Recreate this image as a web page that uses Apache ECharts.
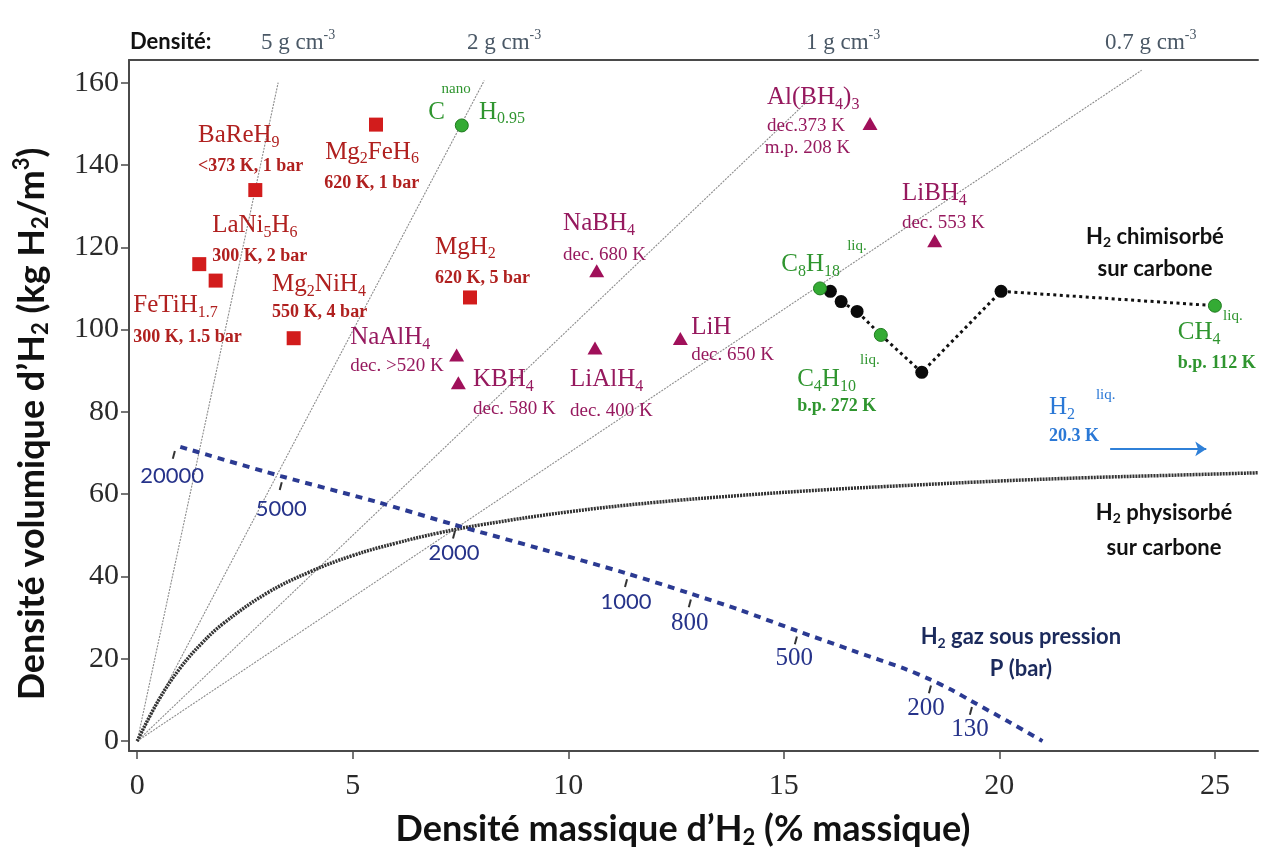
<!DOCTYPE html>
<html><head><meta charset="utf-8">
<script src="https://cdn.jsdelivr.net/npm/echarts@6/dist/echarts.min.js"></script>
<style>html,body{margin:0;padding:0;background:#fff}#c{width:1262px;height:850px}</style>
</head><body><div id="c"></div>
<script>
// ---------- data ----------
const xTicks = [0, 5, 10, 15, 20, 25];
const yTicks = [0, 20, 40, 60, 80, 100, 120, 140, 160];
const densityLabels = ['5 g cm', '2 g cm', '1 g cm', '0.7 g cm'];
const densityLineEnds = [[3.27, 160], [8.05, 160.5], [15.6, 156], [23.3, 163]];
const metalHydrideNames = ['BaReH9', 'LaNi5H6', 'FeTiH1.7', 'Mg2FeH6', 'MgH2', 'Mg2NiH4'];
const metalHydrides = [[2.74, 133.9], [1.44, 115.9], [1.82, 111.9], [5.54, 149.8], [7.72, 107.8], [3.63, 97.9]];
const complexHydrideNames = ['NaAlH4', 'KBH4', 'NaBH4', 'LiAlH4', 'LiH', 'Al(BH4)3', 'LiBH4'];
const complexHydrides = [[7.41, 93.8], [7.45, 87.1], [10.66, 114.3], [10.62, 95.5], [12.6, 97.8], [17.0, 150.1], [18.5, 121.6]];
const hydrocarbonNames = ['CnanoH0.95', 'C8H18', 'C4H10', 'CH4'];
const hydrocarbons = [[7.53, 149.6], [15.84, 110.0], [17.25, 98.7], [25.0, 105.8]];
const chemisorbedPoints = [[16.08, 109.3], [16.33, 106.8], [16.7, 104.4], [18.2, 89.6], [20.04, 109.3]];
const chemisorbedPath = [[15.84, 110.0], [16.08, 109.3], [16.33, 106.8], [16.7, 104.4], [17.25, 98.7], [18.2, 89.6], [20.04, 109.3], [25.0, 105.8]];
const physisorbedCurve = [[0, 0], [0.5, 10], [1, 17.8], [1.5, 23.8], [2, 28.6], [3, 35.9], [4, 41.1], [5, 45.1], [6, 48.1], [7, 50.6], [8, 52.6], [10, 55.7], [12, 58], [14, 59.7], [16, 61.1], [18, 62.2], [20, 63.2], [22, 64], [24, 64.6], [26, 65.2]];
const pressureCurve = [[1.0, 71.5], [3.33, 64.4], [5.5, 58.3], [7.35, 52.6], [9.4, 46.6], [11.34, 40.8], [12.82, 35.9], [14.0, 31.8], [15.28, 26.9], [16.6, 22.0], [17.8, 17.6], [18.39, 15.0], [18.9, 12.4], [19.34, 9.8], [20.2, 4.8], [21.0, 0]];
const pressureValues = ['20000', '5000', '2000', '1000', '800', '500', '200', '130'];
const pressureMarks = [[0.85, 72], [3.33, 64.4], [7.35, 52.6], [11.34, 40.8], [12.82, 35.9], [15.28, 26.9], [18.39, 15.0], [19.34, 9.8]];
const pressureLabelAt = [[0.81, 64.5], [3.34, 56.4], [7.35, 45.7], [11.34, 33.8], [12.82, 28.7], [15.24, 20.2], [18.30, 8.0], [19.32, 2.9]];
const h2LiquidArrow = [[22.57, 71], [24.8, 71]];

// ---------- annotations: [kind, text, x, y, color, align] ----------
const RED = '#b0201f', MAG = '#96195e', GRN = '#2f952f', BLU = '#2a78d6', NAV = '#1b2a5c', PBL = '#26338a';
const annotations = [
  ['F', 'BaReH_[9]', 1.41, 147.2, RED], ['K', '<373 K, 1 bar', 1.41, 139.7, RED],
  ['F', 'Mg_[2]FeH_[6]', 4.36, 143.1, RED], ['K', '620 K, 1 bar', 4.34, 135.5, RED],
  ['F', 'LaNi_[5]H_[6]', 1.74, 125.3, RED], ['K', '300 K, 2 bar', 1.74, 117.8, RED],
  ['F', 'Mg_[2]NiH_[4]', 3.13, 110.9, RED], ['K', '550 K, 4 bar', 3.13, 104.1, RED],
  ['F', 'FeTiH_[1.7]', -0.09, 105.8, RED], ['K', '300 K, 1.5 bar', -0.09, 98.1, RED],
  ['F', 'MgH_[2]', 6.91, 120.0, RED], ['K', '620 K, 5 bar', 6.91, 112.4, RED],
  ['F', 'NaAlH_[4]', 4.94, 98.1, MAG], ['C', 'dec. >520 K', 4.94, 91.2, MAG],
  ['F', 'KBH_[4]', 7.79, 87.8, MAG], ['C', 'dec. 580 K', 7.79, 80.8, MAG],
  ['F', 'NaBH_[4]', 9.88, 125.8, MAG], ['C', 'dec. 680 K', 9.88, 118.0, MAG],
  ['F', 'LiAlH_[4]', 10.04, 87.8, MAG], ['C', 'dec. 400 K', 10.04, 80.3, MAG],
  ['F', 'LiH', 12.85, 100.5, MAG], ['C', 'dec. 650 K', 12.85, 93.9, MAG],
  ['F', 'Al(BH_[4])_[3]', 14.61, 156.4, MAG], ['C', 'dec.373 K', 14.61, 149.4, MAG], ['C', 'm.p. 208 K', 14.56, 144.0, MAG],
  ['F', 'LiBH_[4]', 17.74, 133.1, MAG], ['C', 'dec. 553 K', 17.74, 126.0, MAG],
  ['F', 'C', 6.75, 152.8, GRN], ['N', 'nano', 7.06, 158.4, GRN], ['F', 'H_[0.95]', 7.93, 152.8, GRN],
  ['F', 'C_[8]H_[18]', 14.94, 115.8, GRN], ['N', 'liq.', 16.47, 120.2, GRN],
  ['F', 'C_[4]H_[10]', 15.31, 87.8, GRN], ['N', 'liq.', 16.77, 92.5, GRN], ['K', 'b.p. 272 K', 15.31, 81.3, GRN],
  ['F', 'CH_[4]', 24.14, 99.3, GRN], ['N', 'liq.', 25.19, 103.4, GRN], ['K', 'b.p. 112 K', 24.14, 91.7, GRN],
  ['F', 'H_[2]', 21.15, 81.0, BLU], ['N', 'liq.', 22.24, 84.2, BLU], ['K', '20.3 K', 21.15, 74.0, BLU],
  ['B', 'H_[2] chimisorbé', 23.61, 122.6, '#111', 'center'], ['B', 'sur carbone', 23.61, 114.8, '#111', 'center'],
  ['B', 'H_[2] physisorbé', 23.82, 55.5, '#111', 'center'], ['B', 'sur carbone', 23.82, 47.0, '#111', 'center'],
  ['B', 'H_[2] gaz sous pression', 20.50, 25.3, NAV, 'center'], ['B', 'P (bar)', 20.50, 17.5, NAV, 'center']
];

// ---------- helpers ----------
const SERIF = '"Liberation Serif","Times New Roman",serif';
const SANS = 'Lato,"Open Sans",sans-serif';
function rt(s, base, sub) {
  return s.split(/(_\[[^\]]*\])/).filter(Boolean).map(t =>
    t.startsWith('_[') ? '{' + sub + '|' + t.slice(2, -1) + '}' : '{' + base + '|' + t + '}').join('');
}
const subOf = { F: 'f', B: 'b' };
const rich = {
  F: { fontFamily: SERIF, fontSize: 25, lineHeight: 30 },
  f: { fontFamily: SERIF, fontSize: 16, lineHeight: 16, padding: [14, 0, 0, 0] },
  C: { fontFamily: SERIF, fontSize: 19, lineHeight: 22 },
  K: { fontFamily: SERIF, fontSize: 18, fontWeight: 'bold', lineHeight: 22 },
  N: { fontFamily: SERIF, fontSize: 15, lineHeight: 18 },
  B: { fontFamily: SANS, fontSize: 22, fontWeight: 'bold', lineHeight: 28 },
  b: { fontFamily: SANS, fontSize: 14, fontWeight: 'bold', lineHeight: 14, padding: [12, 0, 0, 0] },
  P: { fontFamily: SERIF, fontSize: 25, lineHeight: 28 },
  Q: { fontFamily: SANS, fontSize: 22, lineHeight: 28 }
};
const annData = annotations.map(a => ({
  value: [a[2], a[3]],
  rt: rt(a[1], a[0], subOf[a[0]] || a[0]),
  label: { color: a[4], align: a[5] || 'left' }
}));
pressureValues.forEach((v, i) => {
  annData.push({ value: pressureLabelAt[i], rt: '{' + (i < 4 ? 'Q' : 'P') + '|' + v + '}', label: { color: PBL, align: 'center' } });
});

const chart = echarts.init(document.getElementById('c'));
const axisColor = '#4a4a4a';
const lineSeries = (data, style, extra) => Object.assign({
  type: 'line', data, symbol: 'none', silent: true, lineStyle: style, z: 2
}, extra || {});

const series = [];
densityLineEnds.forEach(e => series.push(lineSeries([[0, 0], e], { color: '#8c8c8c', width: 1.1, type: [2, 1.2] })));
series.push(lineSeries(physisorbedCurve, { color: '#333', width: 3.5, type: [2, 1] }, { smooth: 0.4 }));
series.push(lineSeries(pressureCurve, { color: '#2b3a92', width: 4, type: [7, 6] }, { smooth: 0.3 }));
series.push(lineSeries(chemisorbedPath, { color: '#111', width: 3, type: [3, 3.5] }));
series.push({ type: 'lines', coordinateSystem: 'cartesian2d', silent: true, symbol: ['none', 'arrow'], symbolSize: 11,
  lineStyle: { color: '#2f80d8', width: 2, opacity: 1 }, data: [{ coords: h2LiquidArrow }], z: 3 });
series.push({ type: 'scatter', data: pressureMarks, symbol: 'rect', symbolSize: [2, 8], symbolRotate: -15, symbolOffset: [0, 10],
  itemStyle: { color: '#333', opacity: 1 }, silent: true, z: 3 });
series.push({ type: 'scatter', name: 'metal', data: metalHydrides, symbol: 'rect', symbolSize: 14, itemStyle: { color: '#d21c1c', opacity: 1 }, silent: true, z: 5 });
series.push({ type: 'scatter', name: 'complex', data: complexHydrides, symbol: 'triangle', symbolSize: [15, 13], itemStyle: { color: '#a0105a', opacity: 1 }, silent: true, z: 5 });
series.push({ type: 'scatter', name: 'chem', data: chemisorbedPoints, symbol: 'circle', symbolSize: 13, itemStyle: { color: '#0a0a0a', opacity: 1 }, silent: true, z: 5 });
series.push({ type: 'scatter', name: 'hc', data: hydrocarbons, symbol: 'circle', symbolSize: 13, itemStyle: { color: '#34ab34', borderColor: '#1f7a1f', borderWidth: 1, opacity: 1 }, silent: true, z: 6 });
series.push({ type: 'scatter', name: 'annotations', data: annData, symbol: 'circle', symbolSize: 1,
  itemStyle: { color: 'rgba(0,0,0,0)', opacity: 1 }, silent: true, z: 10,
  label: { show: true, position: 'inside', verticalAlign: 'middle', formatter: p => p.data.rt, rich, textBorderWidth: 0 } });

const gRich = {
  d: { fontFamily: SERIF, fontSize: 23, fill: '#4a5866', lineHeight: 28 },
  u: { fontFamily: SERIF, fontSize: 14, fill: '#4a5866', lineHeight: 14, padding: [0, 0, 16, 0] }
};
const titleRich = {
  t: { fontFamily: SANS, fontWeight: 'bold', fontSize: 36, lineHeight: 42, fill: '#111' },
  s: { fontFamily: SANS, fontWeight: 'bold', fontSize: 22, lineHeight: 22, padding: [18, 0, 0, 0], fill: '#111' },
  u: { fontFamily: SANS, fontWeight: 'bold', fontSize: 22, lineHeight: 22, padding: [0, 0, 20, 0], fill: '#111' }
};
const headerX = [261, 467, 806, 1105];
const graphic = [
  { type: 'text', x: 130, y: 42, style: { text: 'Densité:', fontFamily: SANS, fontWeight: 'bold', fontSize: 22, fill: '#111', align: 'left', verticalAlign: 'middle' } },
  ...densityLabels.map((t, i) => ({ type: 'text', x: headerX[i], y: 43,
    style: { text: '{d|' + t + '}{u|-3}', rich: gRich, align: 'left', verticalAlign: 'middle' } })),
  { type: 'text', x: 32, y: 424, rotation: Math.PI / 2,
    style: { text: '{t|Densité volumique d’H}{s|2}{t| (kg H}{s|2}{t|/m}{u|3}{t|)}', rich: titleRich, align: 'center', verticalAlign: 'middle' } },
  { type: 'text', x: 683, y: 829,
    style: { text: '{t|Densité massique d’H}{s|2}{t| (% massique)}', rich: titleRich, align: 'center', verticalAlign: 'middle' } }
];

chart.setOption({
  animation: false,
  backgroundColor: '#fff',
  grid: { left: 129, right: 4, top: 60, bottom: 99, containLabel: false },
  xAxis: [{
    type: 'value', min: -0.19, max: 26,
    axisLine: { onZero: false, lineStyle: { color: axisColor, width: 2 } },
    axisTick: { customValues: xTicks, length: 8, lineStyle: { color: axisColor, width: 1.5 } },
    axisLabel: { customValues: xTicks, margin: 20, fontFamily: SERIF, fontSize: 30, color: '#2a2a2a' },
    splitLine: { show: false }
  }, {
    type: 'value', position: 'top', min: -0.19, max: 26,
    axisLine: { show: true, onZero: false, lineStyle: { color: axisColor, width: 2 } },
    axisTick: { show: false }, axisLabel: { show: false }, splitLine: { show: false }
  }],
  yAxis: {
    type: 'value', min: -2.4, max: 165.5,
    axisLine: { show: true, onZero: false, lineStyle: { color: axisColor, width: 2 } },
    axisTick: { show: true, customValues: yTicks, length: 8, lineStyle: { color: axisColor, width: 1.5 } },
    axisLabel: { customValues: yTicks, margin: 10, fontFamily: SERIF, fontSize: 30, color: '#2a2a2a' },
    splitLine: { show: false }
  },
  graphic,
  series
});
</script></body></html>
